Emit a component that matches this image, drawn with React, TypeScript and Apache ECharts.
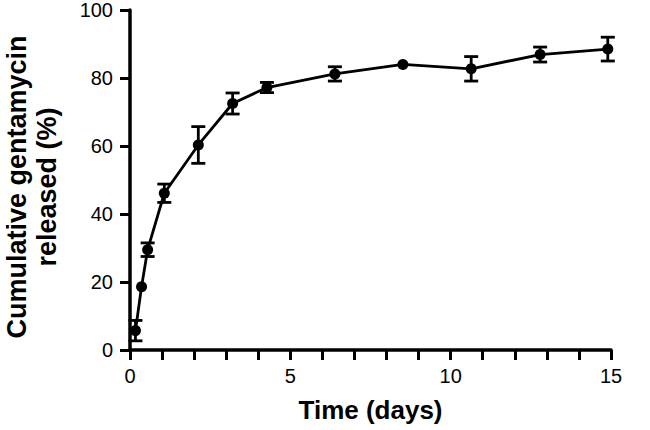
import React, { useEffect, useRef } from "react";
import * as echarts from "echarts";

const days = [0.17, 0.36, 0.55, 1.07, 2.13, 3.2, 4.27, 6.39, 8.51, 10.64, 12.79, 14.9];
const released = [5.7, 18.6, 29.5, 46.1, 60.3, 72.5, 77.2, 81.2, 84.0, 82.7, 86.9, 88.5];
const errors = [3.0, 0, 2.0, 2.7, 5.4, 3.1, 1.5, 2.1, 0, 3.6, 2.2, 3.5];

const FONT = "'Liberation Sans', Arial, Helvetica, sans-serif";

export default function App() {
  const ref = useRef<HTMLDivElement>(null);
  useEffect(() => {
    if (!ref.current) return;
    const chart = echarts.init(ref.current, undefined, { renderer: "svg" });
    const points = days.map((d, i) => [d, released[i]]);
    const bars = days.map((d, i) => [d, released[i] - errors[i], released[i] + errors[i]]);
    chart.setOption({
      animation: false,
      backgroundColor: "#fff",
      grid: { left: 130, right: 39, top: 10, bottom: 80, outerBoundsMode: "none", containLabel: false },
      xAxis: {
        type: "value",
        min: 0,
        max: 15,
        interval: 1,
        name: "Time (days)",
        nameLocation: "middle",
        nameGap: 47,
        nameTextStyle: { fontFamily: FONT, fontWeight: "bold", fontSize: 26, color: "#000" },
        axisLine: { show: true, lineStyle: { color: "#000", width: 3.5 } },
        axisTick: { show: true, length: 10, lineStyle: { color: "#000", width: 3 } },
        axisLabel: {
          formatter: (v: number) => (v % 5 === 0 ? String(v) : ""),
          fontFamily: FONT,
          fontSize: 20,
          color: "#000",
          margin: 16,
        },
        splitLine: { show: false },
      },
      yAxis: {
        type: "value",
        min: 0,
        max: 100,
        interval: 20,
        name: "Cumulative gentamycin\nreleased (%)",
        nameLocation: "middle",
        nameGap: 68,
        nameTextStyle: {
          fontFamily: FONT,
          fontWeight: "bold",
          fontSize: 27,
          color: "#000",
          lineHeight: 30,
          padding: [0, 14, 0, 0],
        },
        axisLine: { show: true, lineStyle: { color: "#000", width: 3.5 } },
        axisTick: { show: true, length: 10, lineStyle: { color: "#000", width: 3 } },
        axisLabel: { fontFamily: FONT, fontSize: 20, color: "#000", margin: 17 },
        splitLine: { show: false },
      },
      series: [
        {
          type: "custom",
          data: bars,
          z: 3,
          renderItem: (params: any, api: any) => {
            const x = api.value(0);
            const lo = api.coord([x, api.value(1)]);
            const hi = api.coord([x, api.value(2)]);
            if (Math.abs(lo[1] - hi[1]) < 1) return { type: "group", children: [] };
            const hw = 7;
            const style = { stroke: "#000", lineWidth: 2.8 };
            return {
              type: "group",
              children: [
                { type: "line", shape: { x1: lo[0], y1: lo[1], x2: hi[0], y2: hi[1] }, style },
                { type: "line", shape: { x1: lo[0] - hw, y1: lo[1], x2: lo[0] + hw, y2: lo[1] }, style },
                { type: "line", shape: { x1: hi[0] - hw, y1: hi[1], x2: hi[0] + hw, y2: hi[1] }, style },
              ],
            };
          },
        },
        {
          type: "line",
          data: points,
          z: 4,
          symbol: "circle",
          symbolSize: 11,
          lineStyle: { color: "#000", width: 2.8 },
          itemStyle: { color: "#000" },
        },
      ],
    });
    return () => chart.dispose();
  }, []);
  return (
    <div
      ref={ref}
      style={{ width: 650, height: 430, position: "absolute", left: 0, top: 0 }}
    />
  );
}
